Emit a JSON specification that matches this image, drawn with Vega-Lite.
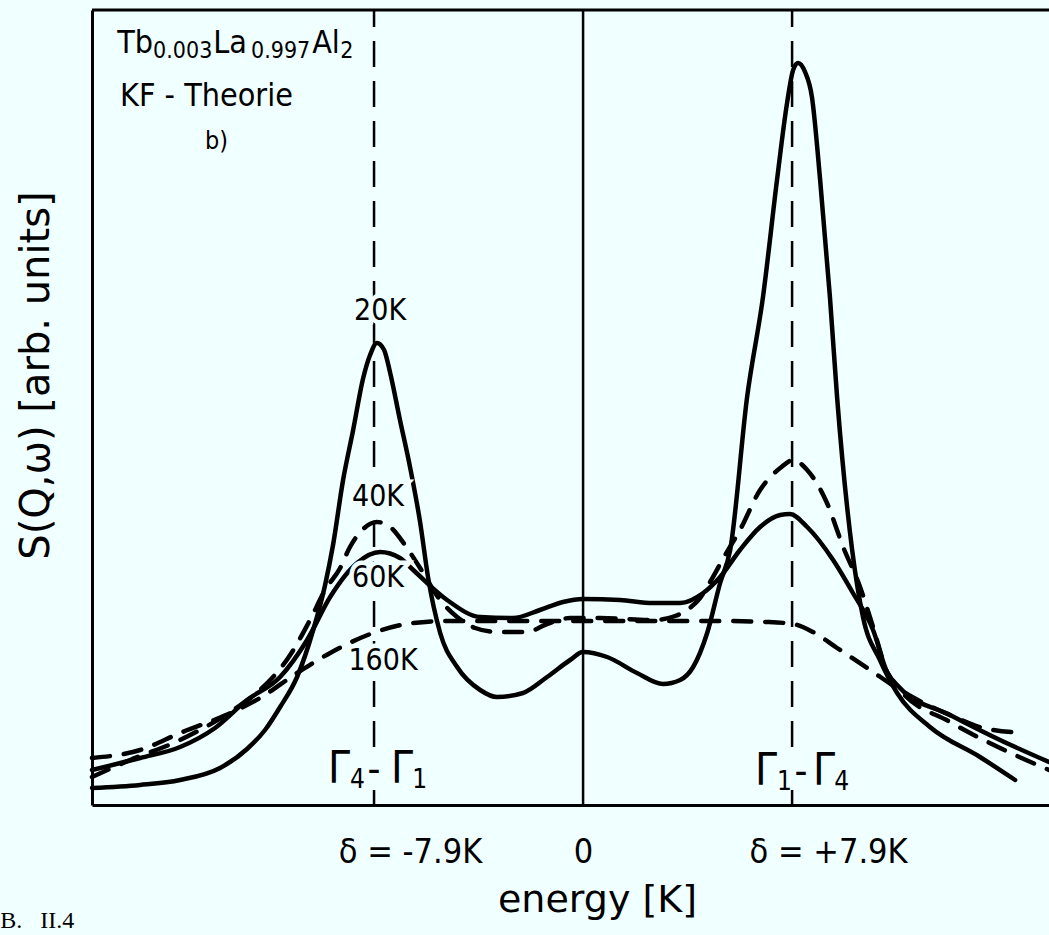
{
"$schema": "https://vega.github.io/schema/vega-lite/v6.json",
"width": 957, "height": 795,
"autosize": {"type": "none"},
"padding": {"left": 92, "top": 10, "right": 0, "bottom": 130},
"background": "#f0ffff",
"config": {"view": {"stroke": null}, "font": "DejaVu Sans Condensed, Liberation Sans Narrow, DejaVu Sans", "axis": {"grid": false}},
"datasets": {
"curves": [
{"T":"20K","e":-18.56,"s":1.7},{"T":"20K","e":-16.74,"s":2.0},{"T":"20K","e":-15.23,"s":2.5},{"T":"20K","e":-13.72,"s":3.7},{"T":"20K","e":-12.70,"s":5.6},{"T":"20K","e":-12.02,"s":7.5},{"T":"20K","e":-11.45,"s":9.8},{"T":"20K","e":-10.81,"s":12.8},{"T":"20K","e":-10.20,"s":17.5},{"T":"20K","e":-9.75,"s":22.0},{"T":"20K","e":-9.45,"s":26.0},{"T":"20K","e":-9.07,"s":32.5},{"T":"20K","e":-8.69,"s":37.5},{"T":"20K","e":-8.31,"s":42.7},{"T":"20K","e":-8.05,"s":45.0},{"T":"20K","e":-7.79,"s":46.2},{"T":"20K","e":-7.52,"s":45.5},{"T":"20K","e":-7.29,"s":43.2},{"T":"20K","e":-6.92,"s":38.5},{"T":"20K","e":-6.54,"s":33.8},{"T":"20K","e":-6.16,"s":28.3},{"T":"20K","e":-5.86,"s":22.8},{"T":"20K","e":-5.40,"s":17.2},{"T":"20K","e":-4.76,"s":13.8},{"T":"20K","e":-3.89,"s":11.5},{"T":"20K","e":-3.25,"s":10.8},{"T":"20K","e":-2.27,"s":11.2},{"T":"20K","e":-1.36,"s":12.8},{"T":"20K","e":-0.49,"s":14.5},{"T":"20K","e":0,"s":15.3},{"T":"20K","e":0.91,"s":14.8},{"T":"20K","e":2.04,"s":13.2},{"T":"20K","e":3.02,"s":12.1},{"T":"20K","e":3.67,"s":12.5},{"T":"20K","e":4.16,"s":13.8},{"T":"20K","e":4.69,"s":17.2},{"T":"20K","e":5.18,"s":22.2},{"T":"20K","e":5.56,"s":25.5},{"T":"20K","e":6.20,"s":40.8},{"T":"20K","e":6.80,"s":50.8},{"T":"20K","e":7.33,"s":62.5},{"T":"20K","e":7.71,"s":70.2},{"T":"20K","e":7.94,"s":73.5},{"T":"20K","e":8.13,"s":74.2},{"T":"20K","e":8.39,"s":73.3},{"T":"20K","e":8.65,"s":70.8},{"T":"20K","e":8.96,"s":62.5},{"T":"20K","e":9.33,"s":50.8},{"T":"20K","e":9.60,"s":40.8},{"T":"20K","e":10.17,"s":25.5},{"T":"20K","e":10.58,"s":18.8},{"T":"20K","e":11.22,"s":14.5},{"T":"20K","e":11.87,"s":11.2},{"T":"20K","e":13.11,"s":7.8},{"T":"20K","e":15.00,"s":4.8},{"T":"20K","e":16.33,"s":2.5},
{"T":"40K","e":-18.56,"s":2.8},{"T":"40K","e":-17.12,"s":4.5},{"T":"40K","e":-15.23,"s":6.5},{"T":"40K","e":-13.34,"s":9.3},{"T":"40K","e":-12.21,"s":11.5},{"T":"40K","e":-11.07,"s":15.0},{"T":"40K","e":-10.32,"s":18.5},{"T":"40K","e":-9.75,"s":21.5},{"T":"40K","e":-9.18,"s":23.7},{"T":"40K","e":-8.81,"s":25.8},{"T":"40K","e":-8.35,"s":27.5},{"T":"40K","e":-7.79,"s":28.3},{"T":"40K","e":-7.29,"s":27.8},{"T":"40K","e":-6.73,"s":26.0},{"T":"40K","e":-6.16,"s":23.7},{"T":"40K","e":-5.40,"s":20.5},{"T":"40K","e":-4.76,"s":18.8},{"T":"40K","e":-4.08,"s":17.7},{"T":"40K","e":-3.25,"s":17.3},{"T":"40K","e":-2.12,"s":17.3},{"T":"40K","e":-1.36,"s":18.1},{"T":"40K","e":-0.49,"s":18.7},{"T":"40K","e":0.64,"s":18.7},{"T":"40K","e":2.65,"s":18.5},{"T":"40K","e":3.48,"s":18.9},{"T":"40K","e":4.04,"s":19.7},{"T":"40K","e":4.42,"s":20.7},{"T":"40K","e":4.80,"s":22.3},{"T":"40K","e":5.37,"s":25.0},{"T":"40K","e":5.93,"s":27.5},{"T":"40K","e":6.69,"s":31.5},{"T":"40K","e":7.45,"s":33.7},{"T":"40K","e":7.94,"s":34.5},{"T":"40K","e":8.47,"s":33.5},{"T":"40K","e":9.22,"s":30.2},{"T":"40K","e":9.83,"s":25.8},{"T":"40K","e":10.47,"s":21.8},{"T":"40K","e":10.96,"s":17.8},{"T":"40K","e":11.49,"s":13.3},{"T":"40K","e":11.98,"s":11.5},{"T":"40K","e":13.87,"s":8.3},{"T":"40K","e":15.76,"s":5.7},{"T":"40K","e":17.61,"s":3.5},
{"T":"60K","e":-18.56,"s":3.5},{"T":"60K","e":-16.74,"s":4.7},{"T":"60K","e":-15.23,"s":5.8},{"T":"60K","e":-13.91,"s":7.7},{"T":"60K","e":-12.70,"s":10.5},{"T":"60K","e":-11.45,"s":12.8},{"T":"60K","e":-10.43,"s":16.5},{"T":"60K","e":-9.56,"s":20.8},{"T":"60K","e":-8.54,"s":24.2},{"T":"60K","e":-7.67,"s":25.3},{"T":"60K","e":-6.92,"s":24.7},{"T":"60K","e":-6.42,"s":23.5},{"T":"60K","e":-5.14,"s":20.5},{"T":"60K","e":-3.89,"s":18.8},{"T":"60K","e":-2.65,"s":18.7},{"T":"60K","e":-1.63,"s":19.5},{"T":"60K","e":-0.76,"s":20.3},{"T":"60K","e":0,"s":20.6},{"T":"60K","e":1.40,"s":20.5},{"T":"60K","e":2.65,"s":20.2},{"T":"60K","e":3.67,"s":20.2},{"T":"60K","e":4.54,"s":21.2},{"T":"60K","e":5.18,"s":22.8},{"T":"60K","e":5.93,"s":25.5},{"T":"60K","e":6.69,"s":27.8},{"T":"60K","e":7.45,"s":29.0},{"T":"60K","e":7.82,"s":29.1},{"T":"60K","e":8.47,"s":27.8},{"T":"60K","e":9.45,"s":24.5},{"T":"60K","e":10.20,"s":21.2},{"T":"60K","e":10.96,"s":17.5},{"T":"60K","e":11.49,"s":13.3},{"T":"60K","e":11.98,"s":11.7},{"T":"60K","e":13.87,"s":9.0},{"T":"60K","e":15.76,"s":6.5},{"T":"60K","e":17.61,"s":4.3},
{"T":"160K","e":-18.56,"s":4.7},{"T":"160K","e":-16.74,"s":5.5},{"T":"160K","e":-15.23,"s":7.2},{"T":"160K","e":-13.23,"s":9.3},{"T":"160K","e":-12.21,"s":10.7},{"T":"160K","e":-10.81,"s":13.2},{"T":"160K","e":-9.56,"s":15.2},{"T":"160K","e":-7.94,"s":17.2},{"T":"160K","e":-6.42,"s":18.2},{"T":"160K","e":-5.14,"s":18.4},{"T":"160K","e":-3.14,"s":18.4},{"T":"160K","e":0,"s":18.4},{"T":"160K","e":2.53,"s":18.4},{"T":"160K","e":5.18,"s":18.4},{"T":"160K","e":6.95,"s":18.3},{"T":"160K","e":7.94,"s":18.1},{"T":"160K","e":8.69,"s":17.3},{"T":"160K","e":9.60,"s":15.7},{"T":"160K","e":10.85,"s":13.5},{"T":"160K","e":11.98,"s":11.5},{"T":"160K","e":14.13,"s":8.7},{"T":"160K","e":15.12,"s":7.7},{"T":"160K","e":16.70,"s":7.2}
],
"notes": [
{"kind":"main","text":"Tb","e":-17.61,"s":75.2},
{"kind":"main","text":"La","e":-13.98,"s":75.2},
{"kind":"main","text":"Al","e":-10.24,"s":75.2},
{"kind":"main","text":"KF - Theorie","e":-17.50,"s":69.9},
{"kind":"sub","text":"0.003","e":-16.25,"s":74.7},
{"kind":"sub","text":"0.997","e":-12.55,"s":74.7},
{"kind":"sub","text":"2","e":-9.18,"s":74.7},
{"kind":"b","text":"b)","e":-14.29,"s":65.6},
{"kind":"curve","text":"20K","e":-7.67,"s":49.4},
{"kind":"curve","text":"40K","e":-7.75,"s":30.8},
{"kind":"curve","text":"60K","e":-7.75,"s":22.7},
{"kind":"curve","text":"160K","e":-7.56,"s":14.4},
{"kind":"gbig","text":"Γ","e":-9.64,"s":2.2},
{"kind":"gbig","text":"Γ","e":-7.26,"s":2.2},
{"kind":"gbig","text":"Γ","e":6.50,"s":2.0},
{"kind":"gbig","text":"Γ","e":8.69,"s":2.0},
{"kind":"gsub","text":"4","e":-8.81,"s":1.7},
{"kind":"gsub","text":"1","e":-6.46,"s":1.7},
{"kind":"gsub","text":"1","e":7.33,"s":1.5},
{"kind":"gsub","text":"4","e":9.49,"s":1.5},
{"kind":"gdash","text":"-","e":-7.90,"s":2.2},
{"kind":"gdash","text":"-","e":8.24,"s":2.0},
{"kind":"fig","text":"B.","e":-22.03,"s":-12.3},
{"kind":"fig","text":"II.4","e":-20.52,"s":-12.3}
]
},
"layer": [
{
"data": {"values": [{"e": -7.9}, {"e": 7.9}]},
"mark": {"type": "rule", "color": "black", "strokeWidth": 2.5, "strokeDash": [26, 14]},
"encoding": {
"x": {"field": "e", "type": "quantitative",
"scale": {"domain": [-18.56, 17.61], "nice": false, "zero": false},
"axis": {"values": [-7.9, 0, 7.9],
"labelExpr": "datum.value < -1 ? 'δ = -7.9K' : (datum.value > 1 ? 'δ = +7.9K' : '0')",
"labelOffset": {"condition": {"test": "abs(datum.value) > 1", "value": 36}, "value": 0},
"ticks": false, "domain": true, "domainColor": "black", "domainWidth": 3,
"labelFontSize": 34, "labelColor": "black", "labelPadding": 30, "labelFlush": false, "labelOverlap": false,
"title": "energy [K]", "titleFont": "DejaVu Sans", "titleFontSize": 38, "titleFontWeight": "normal", "titleColor": "black",
"titleX": 505, "titleY": 106, "titleBaseline": "alphabetic", "titleAlign": "center", "grid": false}},
"y": {"datum": 5.8, "type": "quantitative",
"scale": {"domain": [0, 79.5], "nice": false, "zero": false},
"axis": {"domain": true, "domainColor": "black", "domainWidth": 3, "ticks": false, "labels": false, "grid": false,
"title": "S(Q,ω) [arb. units]", "titleFont": "DejaVu Sans", "titleFontSize": 40, "titleFontWeight": "normal", "titleColor": "black",
"titleX": -44, "titleY": 365, "titleBaseline": "alphabetic", "titleAlign": "center", "titleAngle": -90}},
"y2": {"datum": 79.5}
}
},
{
"data": {"values": [{"e": -7.9}, {"e": 7.9}]},
"mark": {"type": "rule", "color": "black", "strokeWidth": 2.5},
"encoding": {
"x": {"field": "e", "type": "quantitative"},
"y": {"datum": 0, "type": "quantitative"},
"y2": {"datum": 1.5}
}
},
{
"data": {"values": [{"e": 0}]},
"mark": {"type": "rule", "color": "black", "strokeWidth": 2.5},
"encoding": {"x": {"field": "e", "type": "quantitative"}}
},
{
"data": {"values": [{"top": 79.5}]},
"mark": {"type": "rule", "color": "black", "strokeWidth": 3},
"encoding": {"y": {"field": "top", "type": "quantitative"}}
},
{
"data": {"name": "curves"},
"transform": [{"filter": "datum.T === '20K' || datum.T === '60K'"}],
"mark": {"type": "line", "color": "black", "strokeWidth": 4.5, "interpolate": "monotone", "strokeCap": "round"},
"encoding": {"x": {"field": "e", "type": "quantitative"}, "y": {"field": "s", "type": "quantitative"}, "detail": {"field": "T"}}
},
{
"data": {"name": "curves"},
"transform": [{"filter": "datum.T === '40K' || datum.T === '160K'"}],
"mark": {"type": "line", "color": "black", "strokeWidth": 4.5, "interpolate": "monotone", "strokeCap": "round", "strokeDash": [18, 14]},
"encoding": {"x": {"field": "e", "type": "quantitative"}, "y": {"field": "s", "type": "quantitative"}, "detail": {"field": "T"}}
},
{
"data": {"name": "notes"},
"transform": [{"filter": "datum.kind === 'curve'"}],
"mark": {"type": "text", "fontSize": 30, "align": "center", "baseline": "middle", "fill": "#f0ffff", "stroke": "#f0ffff", "strokeWidth": 9},
"encoding": {"x": {"field": "e", "type": "quantitative"}, "y": {"field": "s", "type": "quantitative"}, "text": {"field": "text"}}
},
{
"data": {"name": "notes"},
"transform": [{"filter": "datum.kind === 'curve'"}],
"mark": {"type": "text", "fontSize": 30, "align": "center", "baseline": "middle", "color": "black"},
"encoding": {"x": {"field": "e", "type": "quantitative"}, "y": {"field": "s", "type": "quantitative"}, "text": {"field": "text"}}
},
{
"data": {"name": "notes"},
"transform": [{"filter": "datum.kind === 'gbig'"}],
"mark": {"type": "text", "fontSize": 44, "align": "left", "baseline": "alphabetic", "color": "black"},
"encoding": {"x": {"field": "e", "type": "quantitative"}, "y": {"field": "s", "type": "quantitative"}, "text": {"field": "text"}}
},
{
"data": {"name": "notes"},
"transform": [{"filter": "datum.kind === 'gsub'"}],
"mark": {"type": "text", "fontSize": 26, "align": "left", "baseline": "alphabetic", "color": "black"},
"encoding": {"x": {"field": "e", "type": "quantitative"}, "y": {"field": "s", "type": "quantitative"}, "text": {"field": "text"}}
},
{
"data": {"name": "notes"},
"transform": [{"filter": "datum.kind === 'gdash'"}],
"mark": {"type": "text", "fontSize": 40, "align": "center", "baseline": "alphabetic", "color": "black"},
"encoding": {"x": {"field": "e", "type": "quantitative"}, "y": {"field": "s", "type": "quantitative"}, "text": {"field": "text"}}
},
{
"data": {"name": "notes"},
"transform": [{"filter": "datum.kind === 'main'"}],
"mark": {"type": "text", "fontSize": 32, "align": "left", "baseline": "alphabetic", "color": "black"},
"encoding": {"x": {"field": "e", "type": "quantitative"}, "y": {"field": "s", "type": "quantitative"}, "text": {"field": "text"}}
},
{
"data": {"name": "notes"},
"transform": [{"filter": "datum.kind === 'sub'"}],
"mark": {"type": "text", "fontSize": 23, "align": "left", "baseline": "alphabetic", "color": "black"},
"encoding": {"x": {"field": "e", "type": "quantitative"}, "y": {"field": "s", "type": "quantitative"}, "text": {"field": "text"}}
},
{
"data": {"name": "notes"},
"transform": [{"filter": "datum.kind === 'b'"}],
"mark": {"type": "text", "fontSize": 25, "align": "left", "baseline": "alphabetic", "color": "black"},
"encoding": {"x": {"field": "e", "type": "quantitative"}, "y": {"field": "s", "type": "quantitative"}, "text": {"field": "text"}}
},
{
"data": {"name": "notes"},
"transform": [{"filter": "datum.kind === 'fig'"}],
"mark": {"type": "text", "fontSize": 24, "align": "left", "baseline": "alphabetic", "color": "black", "font": "Liberation Serif"},
"encoding": {"x": {"field": "e", "type": "quantitative"}, "y": {"field": "s", "type": "quantitative"}, "text": {"field": "text"}}
}
]
}
